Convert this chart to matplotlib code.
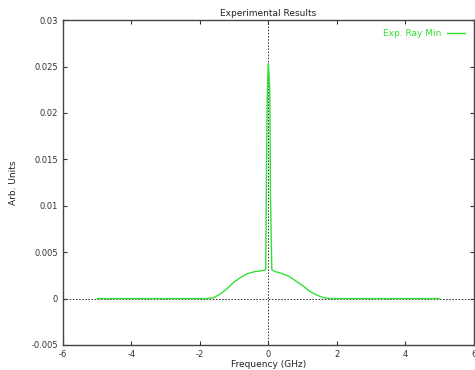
import matplotlib
matplotlib.use("Agg")
import matplotlib.pyplot as plt

freq = [-5.0, -3.0, -2.0, -1.8, -1.6, -1.4, -1.2, -1.0, -0.8, -0.6, -0.4, -0.2, -0.08,
        -0.06, -0.04, -0.02, 0.0, 0.02, 0.04, 0.06, 0.08, 0.10,
        0.2, 0.4, 0.6, 0.8, 1.0, 1.2, 1.4, 1.6, 1.8, 2.0, 3.0, 5.0]
signal = [0.0, 0.0, 0.0, 0.0, 0.0001, 0.0005, 0.0011, 0.0018, 0.0023, 0.0027, 0.0029, 0.0030, 0.0031,
          0.0120, 0.0200, 0.0240, 0.0253, 0.0240, 0.0225, 0.0110, 0.0070, 0.0031,
          0.0029, 0.0027, 0.0024, 0.0019, 0.0014, 0.0008, 0.0004, 0.0001, 0.0, 0.0, 0.0, 0.0]

xticks = [-6, -4, -2, 0, 2, 4, 6]
yticks = [-0.005, 0, 0.005, 0.01, 0.015, 0.02, 0.025, 0.03]
ytick_labels = ["-0.005", "0", "0.005", "0.01", "0.015", "0.02", "0.025", "0.03"]

fig = plt.figure(figsize=(4.75, 3.7), dpi=100)
ax = fig.add_axes([0.1326, 0.0676, 0.865, 0.878])

ax.axhline(0, color="#333333", linestyle=(0, (1.6, 1.6)), linewidth=0.7, zorder=1)
ax.axvline(0, color="#333333", linestyle=(0, (1.6, 1.6)), linewidth=0.7, zorder=1)
ax.plot(freq, signal, color="#33e033", linewidth=1.0, label="Exp. Ray Min", zorder=2)

ax.set_xlim(-6, 6)
ax.set_ylim(-0.005, 0.03)
ax.set_xticks(xticks)
ax.set_xticklabels([str(t) for t in xticks])
ax.set_yticks(yticks)
ax.set_yticklabels(ytick_labels)
ax.tick_params(direction="in", top=True, right=True, labelsize=6, length=3,
               width=0.8, colors="#333333", labelcolor="#333333")
for s in ax.spines.values():
    s.set_color("#444444")
    s.set_linewidth(1.0)

ax.set_title("Experimental Results", fontsize=6.5, pad=3, color="#222222")
ax.set_xlabel("Frequency (GHz)", fontsize=6.5, labelpad=1, color="#222222")
ax.set_ylabel("Arb. Units", fontsize=6.5, labelpad=10, color="#222222")

leg = ax.legend(loc="upper right", frameon=False, fontsize=6.5, handlelength=2.0,
                borderaxespad=0.6, handletextpad=0.6, markerfirst=False)
for t in leg.get_texts():
    t.set_color("#33e033")

fig.savefig("out.png", dpi=100)
